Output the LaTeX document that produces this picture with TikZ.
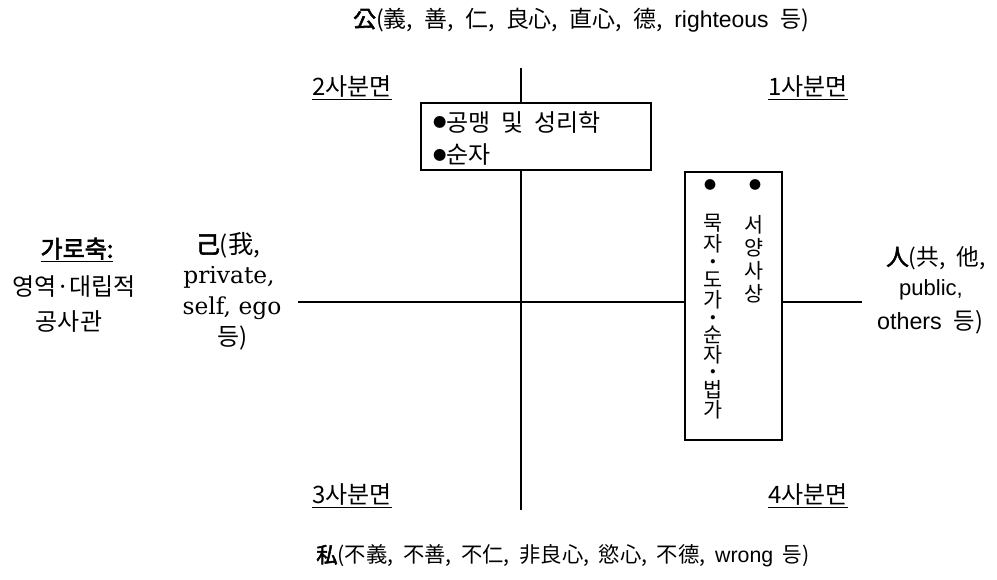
\documentclass[tikz,border=0pt]{standalone}
\usepackage{fontspec}
\setmainfont{Noto Sans CJK KR}[AutoFakeBold=2.5]
\newfontfamily\kr{Noto Sans CJK KR}[AutoFakeBold=2.5]
\newfontfamily\lsans{Liberation Sans}
\newfontfamily\dser{DejaVu Serif}
\newcommand{\gp}{\hspace{0.5em}}
\begin{document}
\begin{tikzpicture}[x=0.75pt,y=-0.75pt,
  every node/.style={inner sep=0pt, outer sep=0pt},
  txt/.style={font=\kr\fontsize{18}{21}\selectfont},
  vch/.style={font=\kr\fontsize{15.5}{16}\selectfont},
  vdot/.style={font=\kr\fontsize{3.5}{4}\selectfont},
  axis/.style={line width=1.9pt, black},
  box/.style={draw=black, line width=0.8pt, fill=white},
  dot/.style={font=\kr\fontsize{9}{9}\selectfont}]
\useasboundingbox (0,0) rectangle (997,580);

% axes
\coordinate (vt) at (521,68);
\coordinate (vb) at (521,510);
\coordinate (hl) at (298,302);
\coordinate (hr) at (862,302);
\draw[axis] (vt) -- (vb);
\draw[axis] (hl) -- (hr);

% top / bottom labels
\node[font=\kr\fontsize{17.2}{20}\selectfont] (top) at (581,20) {\textbf{公}(義,\gp 善,\gp 仁,\gp 良心,\gp 直心,\gp 德,\gp {\lsans righteous}\gp 등)};
\node[font=\kr\fontsize{16}{19}\selectfont] (bot) at (563,556) {\textbf{私}(不義,\ \ 不善,\ \ 不仁,\ \ 非良心,\ \ 慾心,\ \ 不德,\ \ {\lsans wrong}\ \ 등)};

% quadrant labels
\node[txt] (q2) at (352,88) {\underline{2사분면}};
\node[txt] (q1) at (808,88) {\underline{1사분면}};
\node[txt] (q3) at (352,496) {\underline{3사분면}};
\node[txt] (q4) at (808,496) {\underline{4사분면}};

% box 1
\node[box, minimum width=172.5pt, minimum height=50.25pt] (b1) at (536,136.5) {};
\node[txt, anchor=west] (b1a) at (433,122) {\raisebox{2.6pt}{\fontsize{10}{10}\selectfont ●}공맹\ \ 및\ \ 성리학};
\node[txt, anchor=west] (b1b) at (433,155) {\raisebox{2.6pt}{\fontsize{10}{10}\selectfont ●}순자};

% box 2
\node[box, minimum width=72.75pt, minimum height=201pt] (b2) at (733.5,306) {};
\node[dot] (d1) at (710,185) {●};
\node[dot] (d2) at (755,185) {●};
% column 1 (vertical text)
\node[vch] (c1a) at (713,223) {묵};
\node[vch] (c1b) at (713,244) {자};
\node[vdot] (c1c) at (713,262) {●};
\node[vch] (c1d) at (713,280) {도};
\node[vch] (c1e) at (713,300) {가};
\node[vdot] (c1f) at (713,318) {●};
\node[vch] (c1g) at (713,335) {순};
\node[vch] (c1h) at (713,355) {자};
\node[vdot] (c1i) at (713,372) {●};
\node[vch] (c1j) at (713,390) {법};
\node[vch] (c1k) at (713,410) {가};
% column 2 (vertical text)
\node[vch] (c2a) at (754,225) {서};
\node[vch] (c2b) at (754,248) {양};
\node[vch] (c2c) at (754,271) {사};
\node[vch] (c2d) at (754,294) {상};

% left axis title
\node[txt] (l1) at (77,250) {\underline{\textbf{가로축:}}};
\node[txt] (l2) at (74,287) {영역·대립적};
\node[txt] (l3) at (69,322) {공사관};

% self block
\node[txt] (s1) at (228,245) {\textbf{己}({\fontsize{19}{21}\selectfont 我},};
\node[font=\dser\fontsize{17.5}{20}\selectfont] (s2) at (229,277) {private,};
\node[font=\dser\fontsize{17.5}{20}\selectfont] (s3) at (232,308) {self,\ ego};
\node[txt] (s4) at (233,338) {등)};

% others block
\node[font=\kr\fontsize{17}{20}\selectfont] (o1) at (936,258) {\textbf{人}(共,\gp 他,};
\node[font=\lsans\fontsize{16.5}{19}\selectfont] (o2) at (931,290) {public,};
\node[font=\kr\fontsize{17.5}{20}\selectfont] (o3) at (930,322) {{\lsans others}\gp 등)};
\end{tikzpicture}
\end{document}
